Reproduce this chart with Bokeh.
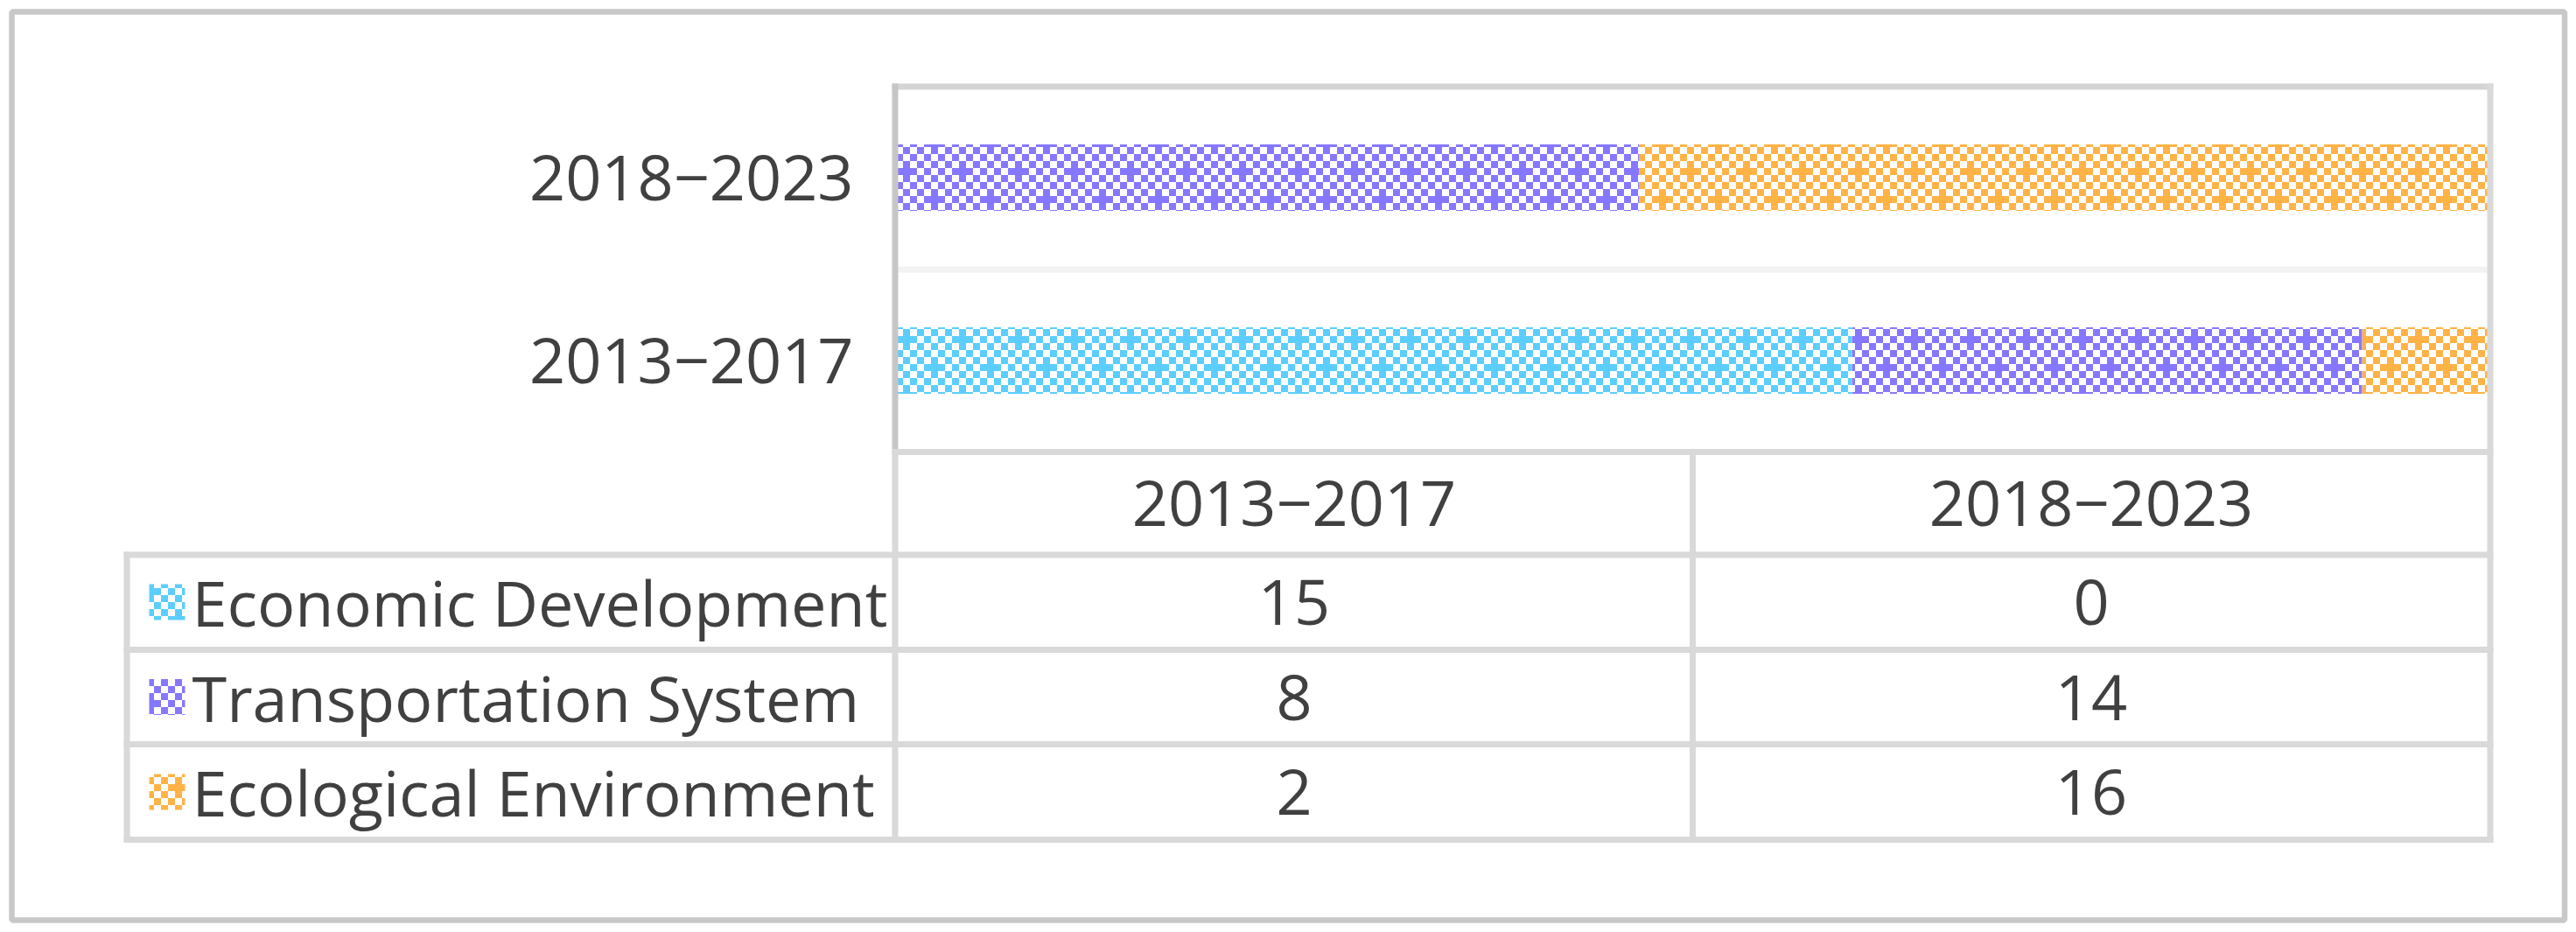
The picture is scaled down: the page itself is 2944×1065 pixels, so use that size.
import zlib, struct, base64
from bokeh.plotting import figure
from bokeh.models import ColumnDataSource, ImageURLTexture, Range1d
from bokeh.embed import file_html
from bokeh.resources import INLINE
from bokeh.core.properties import value

# ---------------- data ----------------
periods = ["2013−2017", "2018−2023"]
series = ["Economic Development", "Transportation System", "Ecological Environment"]
economic = [15, 0]
transport = [8, 14]
ecological = [2, 16]
values = [economic, transport, ecological]
colors = ["#5BCEFF", "#8677FF", "#FFB347"]

# ---------------- pattern textures ----------------
def png_bytes(w, h, rows):
    raw = b"".join(b"\x00" + r for r in rows)
    def chunk(t, d):
        return struct.pack(">I", len(d)) + t + d + struct.pack(">I", zlib.crc32(t + d) & 0xffffffff)
    return (b"\x89PNG\r\n\x1a\n" + chunk(b"IHDR", struct.pack(">IIBBBBB", w, h, 8, 2, 0, 0, 0))
            + chunk(b"IDAT", zlib.compress(raw)) + chunk(b"IEND", b""))

def checker_uri(hex_color, cell=8, n=8):
    c = bytes(int(hex_color[i:i + 2], 16) for i in (1, 3, 5))
    wht = b"\xff\xff\xff"
    on = set()
    for i in range(n):
        for j in range(n):
            if (i + j) % 2 == 0:
                on.add((i, j))
    # flipping a "white" checker cell produces a "+" motif
    on.add((1, 0))
    on.add((5, 4))
    rows = []
    for py in range(n * cell):
        r = b"".join((c if ((px // cell, py // cell) in on) else wht) for px in range(n * cell))
        rows.append(r)
    data = png_bytes(n * cell, n * cell, rows)
    return "data:image/png;base64," + base64.b64encode(data).decode()

textures = [ImageURLTexture(url=checker_uri(c), repetition="repeat") for c in colors]

# ---------------- layout helpers (reference pixel -> data) ----------------
PAGE = 0
FW, FH = 2936, 1057
PL, PWID = 1023.0, 1822.0      # plot area left / width (px)
PB, BAND = 516.0, 209.0        # plot area bottom / band height (px)

def X(px):
    return (px - PL) / PWID

def Y(py):
    return (PB - py) / BAND

p = figure(width=FW, height=FH, output_backend="svg", toolbar_location=None,
           x_range=Range1d(X(PAGE), X(PAGE + FW)), y_range=Range1d(Y(PAGE + FH), Y(PAGE)),
           x_axis_type=None, y_axis_type=None, min_border=0)
p.grid.visible = False
p.outline_line_color = None
p.background_fill_color = "white"
p.border_fill_color = "white"

FONT = value("Open Sans")
TXT = "#404040"
FS = "72px"

# ---------------- stacked 100% bars ----------------
n = len(periods)
totals = [sum(v[i] for v in values) for i in range(n)]
cum = [0.0] * n
for s, vals, tex in zip(series, values, textures):
    left = [cum[i] / totals[i] for i in range(n)]
    right = [(cum[i] + vals[i]) / totals[i] for i in range(n)]
    cum = [cum[i] + vals[i] for i in range(n)]
    src = ColumnDataSource(dict(y=[i + 0.5 for i in range(n)], left=left, right=right))
    p.hbar(y="y", left="left", right="right", height=76 / BAND, source=src,
           fill_color="white", line_color=None,
           hatch_pattern=value("chk"), hatch_extra={"chk": tex})

# category labels (left of plot)
p.text(x=[X(975)] * n, y=[i + 0.5 for i in range(n)], text=periods,
       text_font=FONT, text_font_size=FS, text_color=TXT,
       text_align="right", text_baseline="middle")

# ---------------- frame / grid lines ----------------
def hline(y, x0, x1, color, w=7):
    p.segment(x0=[X(x0)], y0=[Y(y)], x1=[X(x1)], y1=[Y(y)], line_color=color, line_width=w)

def vline(x, y0, y1, color, w=7):
    p.segment(x0=[X(x)], y0=[Y(y0)], x1=[X(x)], y1=[Y(y1)], line_color=color, line_width=w)

GRID = "#d9d9d9"
hline(307.5, 1026, 2842, "#f2f2f2")          # divider between categories
hline(98.5, 1019, 2849, "#d4d4d4")            # plot top
vline(1022.5, 95, 516, "#c6c6c6")             # plot left (category axis)
vline(2845.5, 95, 962, GRID)                  # right
hline(516, 1019, 2849, GRID)                  # table top
for yy in [633.5, 742, 850, 959]:
    hline(yy, 141, 2849, GRID)
vline(144.5, 630, 962, GRID)
vline(1022.5, 516, 962, GRID)
vline(1934, 516, 962, GRID)

# outer chart border
p.quad(left=[X(13)], right=[X(2930.5)], top=[Y(13)], bottom=[Y(1051)],
       fill_color=None, line_color="#c8c8c8", line_width=6.5)

# ---------------- data table ----------------
col_x = [(i + 0.5) / n for i in range(n)]
p.text(x=col_x, y=[Y(574.5)] * n, text=periods, text_font=FONT, text_font_size=FS,
       text_color=TXT, text_align="center", text_baseline="middle")

row_y = [Y(687.5), Y(796), Y(904.5)]
for s, vals, tex, ry in zip(series, values, textures, row_y):
    p.text(x=col_x, y=[ry] * n, text=[str(v) for v in vals], text_font=FONT,
           text_font_size=FS, text_color=TXT, text_align="center", text_baseline="middle")
    p.rect(x=[X(190.5)], y=[ry], width=41, height=41, width_units="screen",
           height_units="screen", fill_color="white", line_color=None,
           hatch_pattern=value("chk"), hatch_extra={"chk": tex})
    p.text(x=[X(219)], y=[ry], text=[s], text_font=FONT, text_font_size=FS,
           text_color=TXT, text_align="left", text_baseline="middle")

open("out.html", "w").write(file_html(p, INLINE))
